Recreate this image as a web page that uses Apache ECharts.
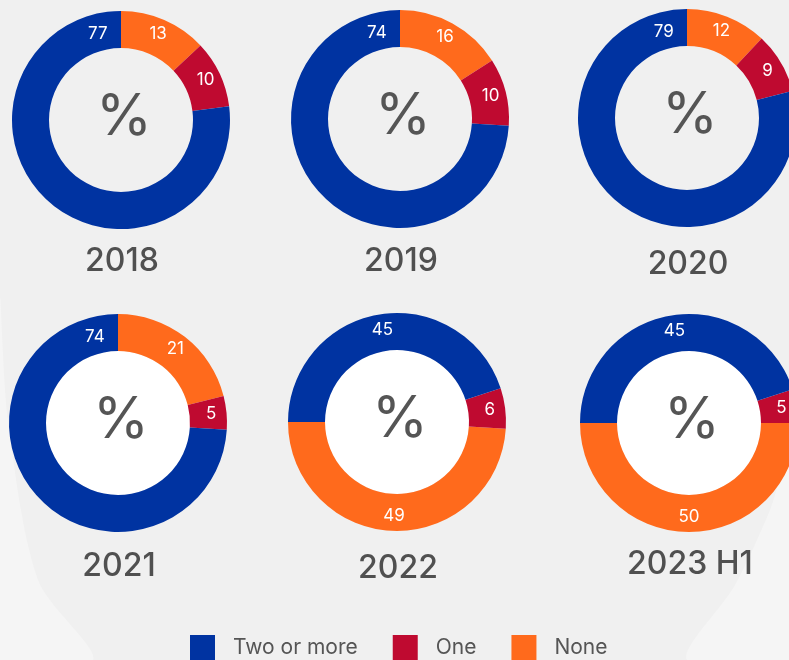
<!DOCTYPE html>
<html>
<head>
<meta charset="utf-8">
<script src="https://cdn.jsdelivr.net/npm/echarts@6/dist/echarts.min.js"></script>
<style>
  html, body { margin: 0; padding: 0; background: #f0f0f0; }
  #main { width: 789px; height: 660px; }
</style>
</head>
<body>
<div id="main"></div>
<script>
// data (percent)
var years = ['2018', '2019', '2020', '2021', '2022', '2023 H1'];
var twoOrMore = [77, 74, 79, 74, 45, 45];
var one = [10, 10, 9, 5, 6, 5];
var none = [13, 16, 12, 21, 49, 50];
var legendNames = ['Two or more', 'One', 'None'];

var colors = { 'Two or more': '#0033a1', 'One': '#bf0a30', 'None': '#ff6a1c' };

// layout of the six donuts
var centers = [[121, 120], [400, 119], [687, 118], [118, 423], [397, 422], [689, 423]];
var yearY = [260, 260, 263, 565, 567, 563];
var innerR = 72, outerR = 109;
var font = 'Inter, "Noto Sans", sans-serif';

var myChart = echarts.init(document.getElementById('main'));

var series = [];
var titles = [];

years.forEach(function (y, i) {
    var bottomRow = i >= 3;
    var lateYears = i >= 4;
    if (bottomRow) {
        // white disc behind the lower row donuts
        series.push({
            type: 'pie',
            silent: true,
            center: centers[i],
            radius: [0, innerR],
            label: { show: false },
            labelLine: { show: false },
            data: [{ name: 'disc', value: 1, itemStyle: { color: '#ffffff' } }]
        });
    }
    series.push({
        type: 'pie',
        name: y,
        center: centers[i],
        radius: [innerR, outerR],
        startAngle: lateYears ? 180 : 90,
        clockwise: !lateYears,
        avoidLabelOverlap: false,
        silent: true,
        label: {
            show: true,
            position: 'inside',
            color: '#ffffff',
            fontSize: 17,
            fontFamily: font,
            formatter: '{c}'
        },
        labelLine: { show: false },
        // big blue arc in the early years carries its label near 12 o'clock
        labelLayout: lateYears ? null : function (params) {
            if (params.dataIndex !== 2) return {};
            var ang = -15 * Math.PI / 180;
            var r = (innerR + outerR) / 2 - 1;
            return {
                x: centers[i][0] + r * Math.sin(ang),
                y: centers[i][1] - r * Math.cos(ang),
                align: 'center',
                verticalAlign: 'middle'
            };
        },
        data: [
            { name: 'None', value: none[i], itemStyle: { color: colors['None'] } },
            { name: 'One', value: one[i], itemStyle: { color: colors['One'] } },
            { name: 'Two or more', value: twoOrMore[i], itemStyle: { color: colors['Two or more'] } }
        ]
    });
    titles.push({
        text: y,
        left: centers[i][0] + 1,
        top: yearY[i] - 15,
        textAlign: 'center',
        padding: 0,
        textStyle: { fontSize: 32, fontWeight: 500, color: '#505050', fontFamily: font, letterSpacing: -0.5 }
    });
    titles.push({
        text: '%',
        left: centers[i][0] + 3,
        top: centers[i][1] - 31,
        textAlign: 'center',
        padding: 0,
        textStyle: { fontSize: 57, fontWeight: 'normal', color: '#555555', fontFamily: font }
    });
});

var option = {
    backgroundColor: '#f0f0f0',
    // faint lighter corners of the backdrop
    graphic: [{
        type: 'polygon',
        z: -10,
        silent: true,
        shape: { points: [[0, 300], [8, 420], [38, 580], [93, 660], [0, 660]], smooth: 0.3 },
        style: { fill: '#f5f5f5' }
    }, {
        type: 'polygon',
        z: -10,
        silent: true,
        shape: { points: [[789, 455], [770, 510], [735, 585], [687, 660], [789, 660]], smooth: 0.3 },
        style: { fill: '#f5f5f5' }
    }],
    title: titles,
    legend: {
        data: legendNames,
        left: 190,
        top: 635,
        padding: 0,
        icon: 'rect',
        itemWidth: 25,
        itemHeight: 25,
        itemGap: 35,
        selectedMode: false,
        textStyle: {
            fontSize: 21,
            color: '#555555',
            fontFamily: font,
            padding: [0, 0, 0, 13]
        }
    },
    series: series
};

myChart.setOption(option);
</script>
</body>
</html>
